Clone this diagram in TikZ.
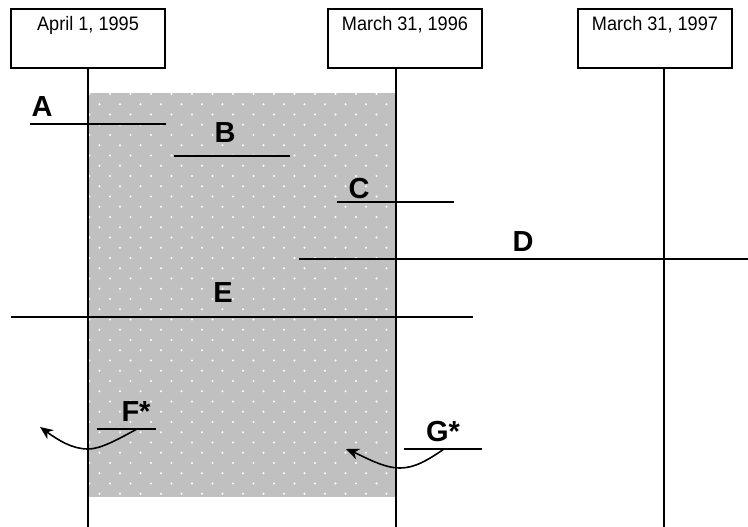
\documentclass[tikz,border=0pt]{standalone}
\usepackage{fontspec}
\setmainfont{Liberation Sans}
\newfontfamily\narrowfont{Liberation Sans}[FakeStretch=0.93]
\usetikzlibrary{arrows.meta}
\definecolor{bgray}{HTML}{C0C0C0}
\begin{document}
\begin{tikzpicture}[x=1pt,y=-1pt,
  datebox/.style={draw,line width=1.2pt,minimum width=154pt,minimum height=59pt,inner sep=0pt},
  datetext/.style={anchor=base,font=\narrowfont\fontsize{19.5}{19.5}\selectfont,inner sep=0pt},
  tline/.style={line width=1.3pt},
  hline/.style={line width=1.5pt},
  lbl/.style={font=\fontsize{29}{29}\selectfont\bfseries,inner sep=0pt},
  carrow/.style={line width=1.6pt,-{Stealth[length=13pt,width=11pt,inset=4pt]}}]
\useasboundingbox (0,0) rectangle (748,527);
% shaded period
\fill[bgray] (89,93) rectangle (395,497);
\begin{scope}
\clip (89,93) rectangle (395,497);
\foreach \r in {0,...,39}{
  \pgfmathsetmacro{\yy}{94+10.25*\r}
  \pgfmathsetmacro{\off}{mod(\r,2)==0 ? 110 : 99.5}
  \foreach \c in {-1,...,15}{
    \fill[white] ({\off+20.5*\c},\yy) circle (1.1pt);
  }
}
\end{scope}
% date boxes
\node[datebox] (b1) at (88,38.5) {};
\node[datebox] (b2) at (405,38.5) {};
\node[datebox] (b3) at (655,38.5) {};
\node[datetext] (t1) at (88,31) {April 1, 1995};
\node[datetext] (t2) at (405,31) {March 31, 1996};
\node[datetext] (t3) at (655,31) {March 31, 1997};
% timelines
\coordinate (e1) at (88,527);
\coordinate (e2) at (396,527);
\coordinate (e3) at (664,527);
\draw[tline] (b1.south) -- (e1);
\draw[tline] (b2.south -| e2) -- (e2);
\draw[tline] (b3.south -| e3) -- (e3);
% labelled ranges
\coordinate (a1) at (30,124); \coordinate (a2) at (166,124);
\coordinate (bb1) at (174,156); \coordinate (bb2) at (290,156);
\coordinate (c1) at (337,202); \coordinate (c2) at (454,202);
\coordinate (d1) at (299,259); \coordinate (d2) at (748,259);
\coordinate (ee1) at (11,317); \coordinate (ee2) at (473,317);
\coordinate (f1) at (97,429); \coordinate (f2) at (156,429);
\coordinate (g1) at (404,449); \coordinate (g2) at (482,449);
\draw[hline] (a1) -- (a2);
\draw[hline] (bb1) -- (bb2);
\draw[hline] (c1) -- (c2);
\draw[hline] (d1) -- (d2);
\draw[hline] (ee1) -- (ee2);
\draw[hline] (f1) -- (f2);
\draw[hline] (g1) -- (g2);
\node[lbl] (A) at (42,107) {A};
\node[lbl] (B) at (225,133) {B};
\node[lbl] (C) at (359,189) {C};
\node[lbl] (D) at (523,242) {D};
\node[lbl] (E) at (223,293) {E};
\node[lbl] (F) at (136,412) {F*};
\node[lbl] (G) at (443,432) {G*};
% curved arrows
\coordinate (fs) at (137,429); \coordinate (fm) at (88,449); \coordinate (fe) at (40,427);
\coordinate (gs) at (444,449); \coordinate (gm) at (400,468); \coordinate (ge) at (346,449);
\draw[carrow] (fs) .. controls (115,441) and (100,449) .. (fm) .. controls (72,449) and (58,440) .. (fe);
\draw[carrow] (gs) .. controls (428,460) and (415,468) .. (gm) .. controls (383,468) and (365,457) .. (ge);
\end{tikzpicture}
\end{document}
